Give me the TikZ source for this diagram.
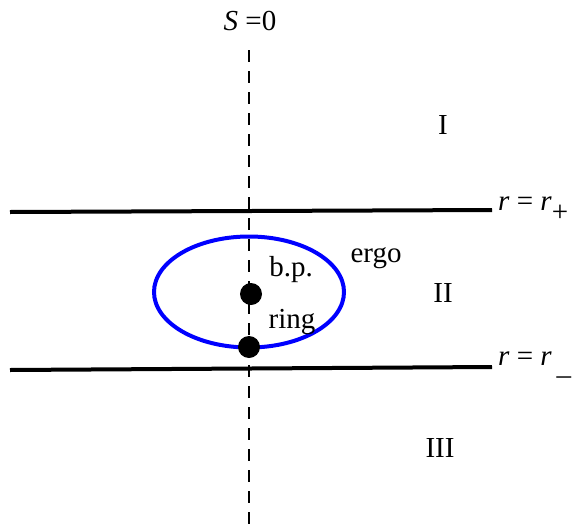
\documentclass[tikz,border=0pt]{standalone}
\usepackage{fontspec}
\setmainfont{Liberation Serif}
\usetikzlibrary{shapes.geometric}
\begin{document}
\begin{tikzpicture}[x=1pt,y=-1pt,
  lbl/.style={font=\fontsize{29}{34}\selectfont, inner sep=0pt},
  horizon/.style={line width=4pt},
  dot/.style={circle, fill=black, minimum size=22pt, inner sep=0pt}]
\useasboundingbox (0,0) rectangle (573,525);
\coordinate (vtop) at (249,50);
\coordinate (vbot) at (249,525);
\draw[line width=2pt, dash pattern=on 12pt off 9pt] (vtop) -- (vbot);
\coordinate (h1a) at (10,212);
\coordinate (h1b) at (492,210);
\coordinate (h2a) at (10,370);
\coordinate (h2b) at (492,367);
\draw[horizon] (h1a) -- (h1b);
\draw[horizon] (h2a) -- (h2b);
\node[draw=blue, line width=4pt, ellipse, minimum width=190pt, minimum height=111pt, inner sep=0pt] (ergo) at (249,292) {};
\node[dot] (bp) at (251,294) {};
\node[dot] (ring) at (249,347) {};
\node[lbl] (S) at (250,21) {\textit{S} =0};
\node[lbl] (I) at (443,125) {I};
\node[lbl] (II) at (443,293) {II};
\node[lbl] (III) at (440,448) {III};
\node[lbl] (ergol) at (376,258) {ergo};
\node[lbl] (bpl) at (291,270) {b.p.};
\node[lbl] (ringl) at (292,322) {ring};
\node[lbl, anchor=west] (rp) at (498,209) {\textit{r} = \textit{r}\raisebox{-11pt}{+}};
\node[lbl, anchor=west] (rm) at (498,365) {\textit{r} = \textit{r}\raisebox{-9pt}{\,\_}};
\end{tikzpicture}
\end{document}
